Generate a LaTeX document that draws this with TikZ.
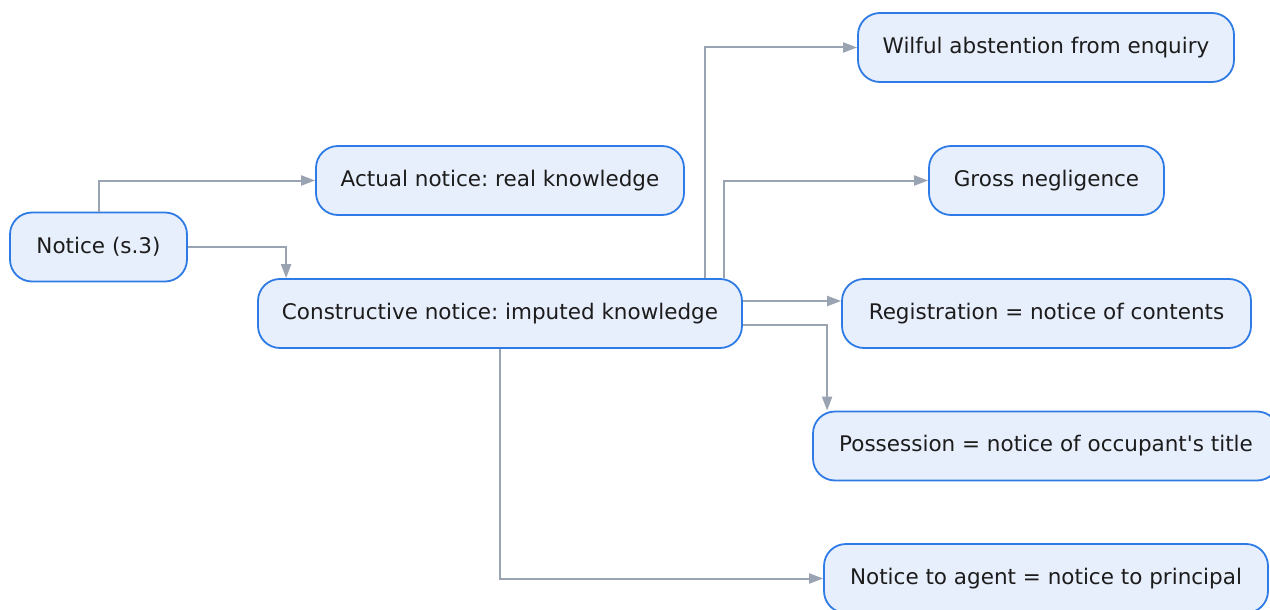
\documentclass[tikz,border=0pt]{standalone}
\usepackage{fontspec}
\setmainfont{DejaVu Sans}
\usetikzlibrary{arrows.meta,calc}
\definecolor{boxfill}{HTML}{E8EFFC}
\definecolor{boxline}{HTML}{2F7BE6}
\definecolor{linkcol}{HTML}{9AA3B1}
\definecolor{txtcol}{HTML}{1C1C1C}
\frenchspacing
\begin{document}
\begin{tikzpicture}[x=1pt,y=-1pt,
  concept/.style={draw=boxline,fill=boxfill,line width=1.8pt,rounded corners=22pt,
    minimum height=69pt,inner sep=0pt,text=txtcol,
    font=\fontsize{21.5}{25}\selectfont},
  link/.style={draw=linkcol,line width=2pt,-{Triangle[length=14pt,width=10pt]}}]
\clip (0,0) rectangle (1270,610);
\fill[white] (0,0) rectangle (1270,610);

% nodes
\node[concept,minimum width=177pt] (notice) at (98.5,247) {Notice (s.3)};
\node[concept,minimum width=368pt] (actual) at (500,180.5) {Actual notice: real knowledge};
\node[concept,minimum width=484pt] (constr) at (500,313.5) {Constructive notice: imputed knowledge};
\node[concept,minimum width=376pt] (wilful) at (1046,47.5) {Wilful abstention from enquiry};
\node[concept,minimum width=235pt] (gross) at (1046.5,180.5) {Gross negligence};
\node[concept,minimum width=409pt] (reg) at (1046.5,313.5) {Registration = notice of contents};
\node[concept,minimum width=466pt] (poss) at (1046,446) {Possession = notice of occupant\textquotesingle s title};
\node[concept,minimum width=444pt] (agent) at (1046,578.5) {Notice to agent = notice to principal};

% connectors
\draw[link] (notice.north) |- (actual.west);
\draw[link] (notice.east) -| ($(constr.north west)+(29,0)$);
\coordinate (wstart) at ($(constr.north east)+(-38,0)$);
\coordinate (gstart) at ($(constr.north east)+(-19,0)$);
\coordinate (rstart) at ($(constr.east)+(0,-12.5)$);
\coordinate (pstart) at ($(constr.east)+(0,11.5)$);
\draw[link] (wstart) |- (wilful.west);
\draw[link] (gstart) |- (gross.west);
\draw[link] (rstart) -- (rstart -| reg.west);
\draw[link] (pstart) -| ($(poss.north west)+(15,0)$);
\draw[link] (constr.south) |- (agent.west);
\end{tikzpicture}
\end{document}
